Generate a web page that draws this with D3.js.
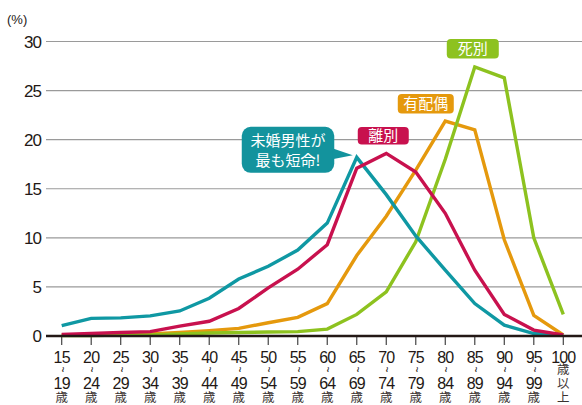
<!DOCTYPE html>
<html>
<head>
<meta charset="utf-8">
<script src="https://cdn.jsdelivr.net/npm/d3@7"></script>
<style>
  body { margin: 0; background: #fff; }
  text { font-family: "Liberation Sans", "Noto Sans CJK JP", sans-serif; }
  .jp { font-family: "Noto Sans CJK JP", sans-serif; }
</style>
</head>
<body>
<svg id="chart" width="582" height="405"></svg>
<script>
// age groups (start of each 5-year band, last one is 100+)
const categories = ["15", "20", "25", "30", "35", "40", "45", "50", "55", "60", "65", "70", "75", "80", "85", "90", "95", "100"];
const endLabels = ["19", "24", "29", "34", "39", "44", "49", "54", "59", "64", "69", "74", "79", "84", "89", "94", "99", ""];
const yTicks = [0, 5, 10, 15, 20, 25, 30];

// share of deaths by age (%), per marital status
const neverMarried = [1.05, 1.8, 1.85, 2.05, 2.55, 3.85, 5.8, 7.1, 8.75, 11.5, 18.2, 14.4, 10.2, 6.7, 3.3, 1.1, 0.25, 0.1];
const divorced     = [0.15, 0.25, 0.35, 0.45, 1.0, 1.5, 2.8, 4.9, 6.8, 9.3, 17.1, 18.6, 16.7, 12.5, 6.7, 2.2, 0.6, 0.1];
const married      = [0.1, 0.1, 0.15, 0.2, 0.35, 0.55, 0.78, 1.35, 1.9, 3.3, 8.2, 12.2, 16.9, 21.9, 21.0, 9.8, 2.1, 0.1];
const widowed      = [0.05, 0.05, 0.1, 0.1, 0.2, 0.3, 0.35, 0.4, 0.45, 0.7, 2.2, 4.5, 9.6, 18.0, 27.4, 26.3, 10.0, 2.2];

const seriesNames = ["未婚", "有配偶", "離別", "死別"];
const seriesValues = [neverMarried, married, divorced, widowed];
const seriesColors = ["#0f98a3", "#e5990d", "#c8114e", "#8dc21f"];

const svg = d3.select("#chart");
const W = 582, H = 405;

const x = d3.scalePoint()
  .domain(categories)
  .range([61.7, 563.3]);

const y = d3.scaleLinear()
  .domain([0, 30])
  .range([336, 41.5]);

//* grid
svg.append("g")
  .selectAll("line")
  .data(yTicks.filter(d => d > 0))
  .join("line")
  .attr("x1", 46).attr("x2", W)
  .attr("y1", d => y(d)).attr("y2", d => y(d))
  .attr("stroke", "#9a9a9a")
  .attr("stroke-width", 1.2);

//* y labels
svg.append("g")
  .selectAll("text")
  .data(yTicks)
  .join("text")
  .attr("x", 41)
  .attr("y", d => y(d) + 6)
  .attr("text-anchor", "end")
  .attr("font-size", 17)
  .attr("letter-spacing", -1)
  .attr("fill", "#231815")
  .text(d => d);

svg.append("text")
  .attr("x", 7).attr("y", 24)
  .attr("font-size", 13)
  .attr("fill", "#231815")
  .text("(%)");

//* x ticks
svg.append("g")
  .selectAll("line")
  .data(categories)
  .join("line")
  .attr("x1", d => x(d)).attr("x2", d => x(d))
  .attr("y1", y(0)).attr("y2", y(0) + 9)
  .attr("stroke", "#444")
  .attr("stroke-width", 1.2);

//* x labels
const lab = svg.append("g")
  .selectAll("g")
  .data(categories.map((c, i) => ({ c, end: endLabels[i] })))
  .join("g")
  .attr("transform", d => `translate(${x(d.c)},0)`)
  .attr("fill", "#231815")
  .attr("text-anchor", "middle");

lab.append("text")
  .attr("y", 362.5)
  .attr("font-size", 16)
  .attr("letter-spacing", -0.8)
  .text(d => d.c);

lab.filter(d => d.end !== "").each(function (d) {
  const g = d3.select(this);
  g.append("text")
    .attr("transform", "translate(0,369.3) rotate(90)")
    .attr("dy", "0.3em")
    .attr("font-size", 10)
    .text("~");
  g.append("text")
    .attr("y", 389.3)
    .attr("font-size", 16)
    .attr("letter-spacing", -0.8)
    .text(d.end);
  g.append("text")
    .attr("class", "jp")
    .attr("y", 401.5)
    .attr("font-size", 12.5)
    .attr("fill", "#3a3230")
    .text("歳");
});

lab.filter(d => d.end === "").each(function () {
  const g = d3.select(this);
  ["歳", "以", "上"].forEach((ch, i) => {
    g.append("text")
      .attr("class", "jp")
      .attr("y", 374 + i * 13.8)
      .attr("font-size", 12.5)
      .attr("fill", "#3a3230")
      .text(ch);
  });
});

//* lines
const line = d3.line()
  .x((d, i) => x(categories[i]))
  .y(d => y(d));

const drawOrder = [1, 3, 0, 2];
svg.append("g")
  .selectAll("path")
  .data(drawOrder)
  .join("path")
  .attr("d", k => line(seriesValues[k]))
  .attr("fill", "none")
  .attr("stroke", k => seriesColors[k])
  .attr("stroke-width", 3.4)
  .attr("stroke-linejoin", "miter");

//* zero axis
svg.append("line")
  .attr("x1", 46).attr("x2", W)
  .attr("y1", y(0)).attr("y2", y(0))
  .attr("stroke", "#231815")
  .attr("stroke-width", 2.6);

//* labels boxes
function tag(cx, top, w, h, color, label) {
  svg.append("rect")
    .attr("x", cx - w / 2).attr("y", top)
    .attr("width", w).attr("height", h)
    .attr("rx", 4)
    .attr("fill", color);
  svg.append("text")
    .attr("class", "jp")
    .attr("x", cx).attr("y", top + h / 2)
    .attr("dy", "0.36em")
    .attr("text-anchor", "middle")
    .attr("font-size", 15)
    .attr("fill", "#fff")
    .text(label);
}

tag(x("85") - 2, y(27.4) - 28, 52, 19.5, seriesColors[3], "死別");
tag(x("80") - 19.5, y(21.9) - 27, 56, 19.5, seriesColors[1], "有配偶");
tag(x("70") - 3, y(18.6) - 26.5, 51, 17.6, seriesColors[2], "離別");

// callout for never-married
const px = x("65"), py = y(18.2);
const bx = px - 115, bw = 92.5, bt = py - 30.5, bh = 46;
svg.append("rect")
  .attr("x", bx).attr("y", bt)
  .attr("width", bw).attr("height", bh)
  .attr("rx", 9)
  .attr("fill", "#13939d");
svg.append("path")
  .attr("d", `M${bx + bw - 2},${py - 9} L${px - 4},${py - 2} L${bx + bw - 2},${py + 2} Z`)
  .attr("fill", "#13939d");
svg.append("text")
  .attr("class", "jp")
  .attr("x", bx + bw / 2).attr("y", bt + 19)
  .attr("text-anchor", "middle")
  .attr("font-size", 15)
  .attr("fill", "#fff")
  .text("未婚男性が");
svg.append("text")
  .attr("class", "jp")
  .attr("x", bx + bw / 2).attr("y", bt + 39)
  .attr("text-anchor", "middle")
  .attr("font-size", 15)
  .attr("fill", "#fff")
  .text("最も短命!");
</script>
</body>
</html>
